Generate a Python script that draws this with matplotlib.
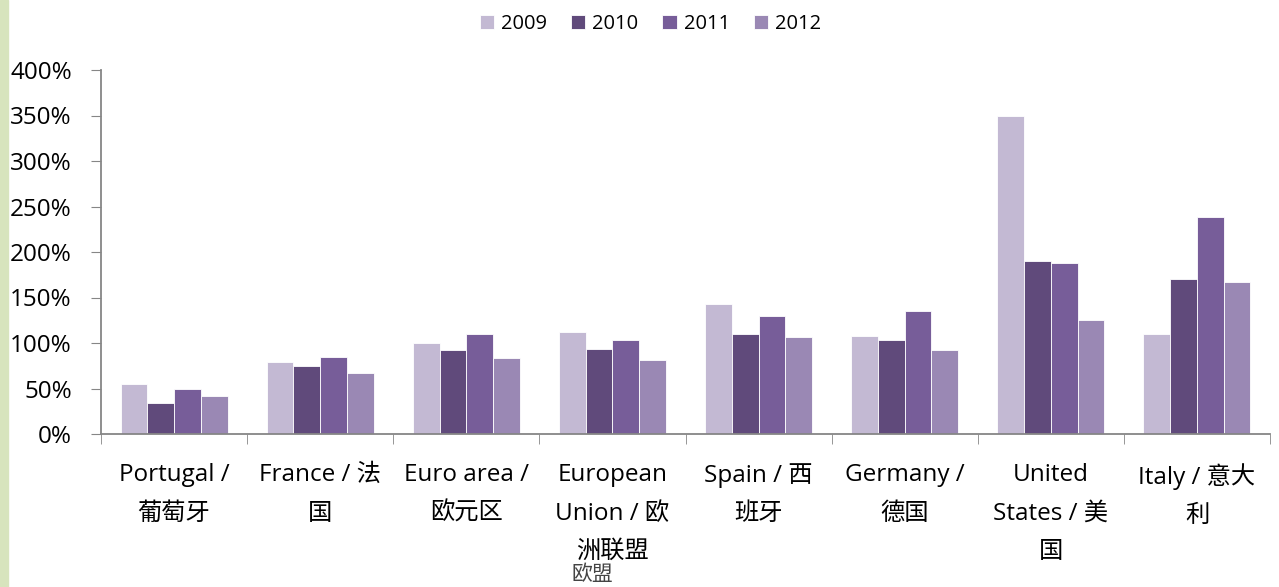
import numpy as np
import matplotlib.pyplot as plt
from matplotlib.patches import Rectangle

plt.rcParams['font.family'] = ['Open Sans', 'Noto Sans CJK SC']

categories = ["Portugal /\n葡萄牙", "France / 法\n国", "Euro area /\n欧元区",
              "European\nUnion / 欧\n洲联盟", "Spain / 西\n班牙", "Germany /\n德国",
              "United\nStates / 美\n国", "Italy / 意大\n利"]
years = ["2009", "2010", "2011", "2012"]
v2009 = [55, 79, 100, 112, 143, 108, 349, 110]
v2010 = [34, 75, 92, 93, 110, 103, 190, 170]
v2011 = [50, 85, 110, 103, 130, 135, 188, 238]
v2012 = [42, 67, 84, 81, 107, 92, 125, 167]
colors = ["#c3b9d3", "#604a7b", "#775d99", "#9a88b4"]

fig = plt.figure(figsize=(12.79, 5.87), dpi=100)
fig.patches.append(Rectangle((0, 0), 8 / 1279, 1, transform=fig.transFigure,
                             color="#d7e4bd", zorder=0))
ax = fig.add_axes([101 / 1279, 1 - 434 / 587, 1169 / 1279, 364 / 587])

x = np.arange(len(categories))
w = 0.183
series = [v2009, v2010, v2011, v2012]
for i, vals in enumerate(series):
    ax.bar(x + (i - 1.5) * w, vals, w, color=colors[i], label=years[i],
           edgecolor="white", linewidth=0.6)

ax.set_xlim(-0.5, len(categories) - 0.5)
ax.set_ylim(0, 400)
ax.set_yticks(range(0, 401, 50))
ax.set_yticklabels([f"{t}%" for t in range(0, 401, 50)], fontsize=17.5)
ax.set_xticks(x)
ax.set_xticklabels(categories, fontsize=17.5, linespacing=1.8, va="top")
ax.tick_params(axis="x", length=0, pad=21)
ax.set_xticks(np.arange(-0.5, len(categories), 1), minor=True)
ax.tick_params(axis="x", which="minor", length=7, color="#868686", direction="out")
ax.tick_params(axis="y", length=7, color="#868686", direction="out", pad=14)
for s in ["top", "right"]:
    ax.spines[s].set_visible(False)
for s in ["left", "bottom"]:
    ax.spines[s].set_color("#868686")
    ax.spines[s].set_linewidth(1.3)

# extra line under the EU label, kept inside the figure
ax.annotate("欧盟", xy=(3, 0), xycoords=("data", "axes fraction"),
            xytext=(-20, -141), textcoords="offset pixels", fontsize=15,
            ha="center", va="center", color="#444444")

ax.legend(loc="upper center", bbox_to_anchor=(0.5 - 35 / 1169, 1 + 74 / 364), ncol=4,
          frameon=False, fontsize=14.5, handlelength=0.7, handleheight=0.7,
          handletextpad=0.35, columnspacing=1.2)

plt.savefig("out.png", dpi=100)
